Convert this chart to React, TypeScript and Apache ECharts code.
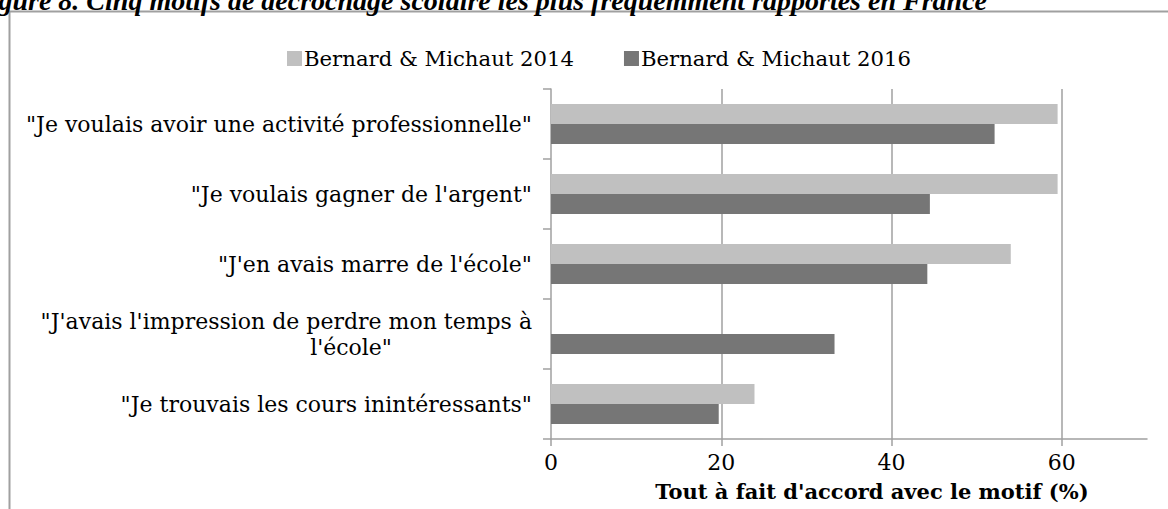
import React, { useEffect, useRef } from "react";
import * as echarts from "echarts";

const categories = [
  '"Je voulais avoir une activité professionnelle"',
  '"Je voulais gagner de l\'argent"',
  '"J\'en avais marre de l\'école"',
  '"J\'avais l\'impression de perdre mon temps à\nl\'école"',
  '"Je trouvais les cours inintéressants"',
];
const seriesNames = ["Bernard & Michaut 2014", "Bernard & Michaut 2016"];
const values2014 = [59.5, 59.5, 54.0, null, 23.9];
const values2016 = [52.1, 44.5, 44.2, 33.3, 19.7];
const xTickLabels = [0, 20, 40, 60];
const titleText =
  "Figure 8. Cinq motifs de décrochage scolaire les plus fréquemment rapportés en France";
const axisTitle = "Tout à fait d'accord avec le motif (%)";

const FONT = "DejaVu Serif";
const GRAY = "#a0a0a0";

export default function App() {
  const ref = useRef<HTMLDivElement>(null);
  useEffect(() => {
    if (!ref.current) return;
    const chart = echarts.init(ref.current, null, { renderer: "svg" });
    const labelStyle = { fontFamily: FONT, fontSize: 22, color: "#000" };
    chart.setOption({
      animation: false,
      backgroundColor: "#fff",
      graphic: [
        {
          type: "rect",
          shape: { x: 9.5, y: 11.5, width: 1300, height: 700 },
          style: { fill: "none", stroke: GRAY, lineWidth: 2 },
          silent: true,
        },
        {
          type: "text",
          x: 987,
          y: 0,
          style: {
            text: titleText,
            fontFamily: "Liberation Serif",
            fontWeight: "bold",
            fontStyle: "italic",
            fontSize: 28,
            fill: "#000",
            align: "right",
            verticalAlign: "middle",
          },
        },
      ],
      legend: {
        left: 282,
        top: 43,
        itemWidth: 15,
        itemHeight: 15,
        itemGap: 50,
        icon: "rect",
        data: seriesNames,
        textStyle: { ...labelStyle, fontSize: 21.2, padding: [0, 0, 0, -3] },
      },
      grid: { left: 551, right: 21, top: 89, bottom: 70, containLabel: false },
      xAxis: {
        type: "value",
        min: 0,
        max: 70,
        interval: 20,
        name: axisTitle,
        nameLocation: "middle",
        nameGap: 42,
        nameTextStyle: {
          fontFamily: FONT,
          fontSize: 21,
          fontWeight: "bold",
          color: "#000",
          padding: [0, 0, 0, 46],
        },
        axisLine: { show: true, lineStyle: { color: GRAY, width: 1.5 } },
        axisTick: { show: true, length: 7, lineStyle: { color: GRAY, width: 1.5 } },
        splitLine: {
          show: true,
          showMinLine: false,
          showMaxLine: false,
          lineStyle: { color: GRAY, width: 1.5 },
        },
        axisLabel: {
          ...labelStyle,
          margin: 12,
          showMaxLabel: false,
          formatter: (v: number) => (xTickLabels.includes(v) ? String(v) : ""),
        },
      },
      yAxis: {
        type: "category",
        data: categories,
        inverse: true,
        axisLine: { show: true, lineStyle: { color: GRAY, width: 1.5 } },
        axisTick: { show: true, length: 8, lineStyle: { color: GRAY, width: 1.5 } },
        splitLine: { show: false },
        axisLabel: {
          ...labelStyle,
          margin: 19,
          lineHeight: 26,
          formatter: (v: string) => {
            const parts = v.split("\n");
            if (parts.length === 1) return v;
            return parts[0] + "\n{b|" + parts[1] + "}{s| }";
          },
          rich: {
            b: { ...labelStyle, lineHeight: 26 },
            s: { ...labelStyle, lineHeight: 26, width: 140 },
          },
        },
      },
      series: [
        {
          name: seriesNames[0],
          type: "bar",
          data: values2014,
          barWidth: 20,
          barGap: "0%",
          itemStyle: { color: "#c0c0c0" },
        },
        {
          name: seriesNames[1],
          type: "bar",
          data: values2016,
          barWidth: 20,
          barGap: "0%",
          itemStyle: { color: "#767676" },
        },
      ],
    });
    return () => chart.dispose();
  }, []);
  return (
    <div
      ref={ref}
      style={{ position: "absolute", left: 0, top: 0, width: 1168, height: 509 }}
    />
  );
}
